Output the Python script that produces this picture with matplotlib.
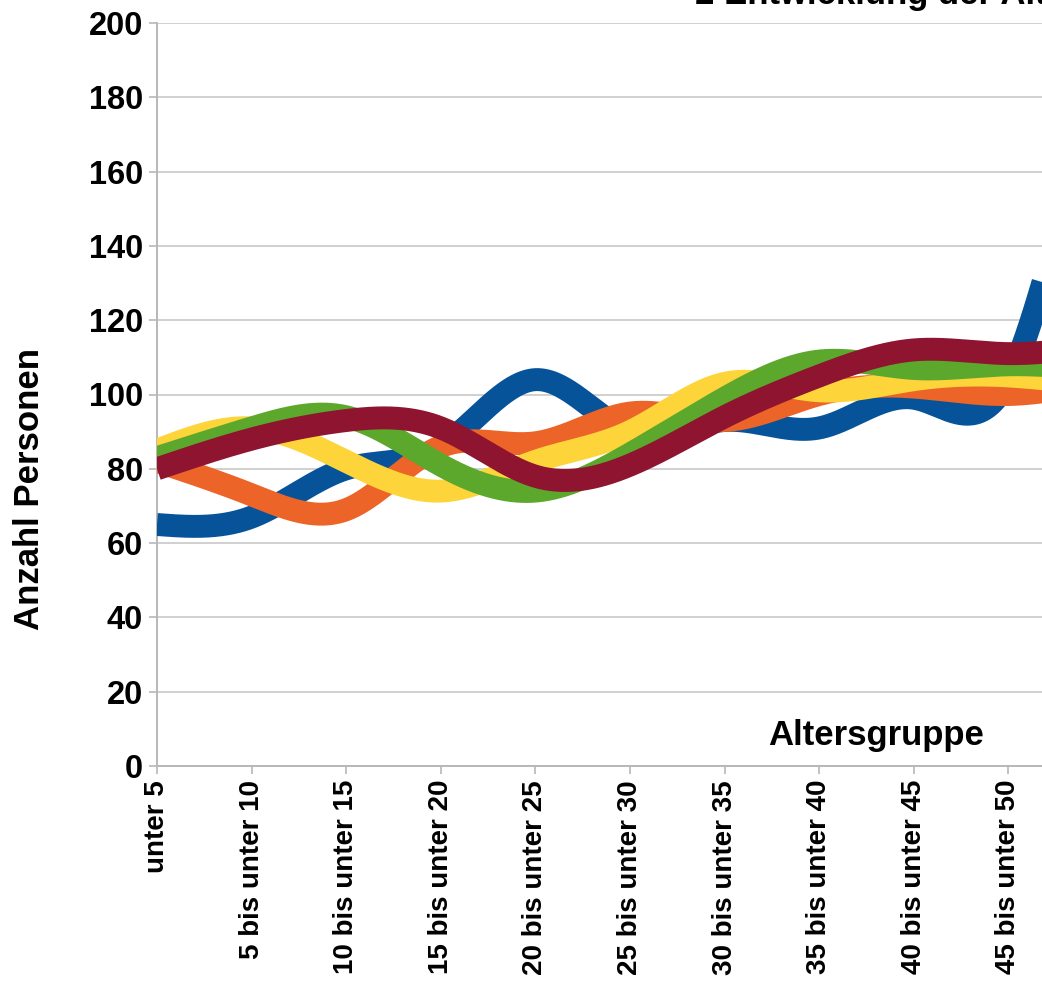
import numpy as np
import matplotlib
matplotlib.use("Agg")
import matplotlib.pyplot as plt

# Age groups (the axis continues past the right edge of the figure)
altersgruppen = [
    "unter 5", "5 bis unter 10", "10 bis unter 15", "15 bis unter 20",
    "20 bis unter 25", "25 bis unter 30", "30 bis unter 35", "35 bis unter 40",
    "40 bis unter 45", "45 bis unter 50", "50 bis unter 55", "55 bis unter 60",
]

# Number of persons per age group, one list per series
reihe_blau = [65, 67, 80, 86, 104, 90, 93, 91, 99, 104, 180, 175]
reihe_orange = [82, 73, 69, 86, 87, 95, 93, 100, 102, 100, 103, 104]
reihe_gelb = [85, 91, 82, 74, 82, 90, 103, 101, 104, 105, 103, 104]
reihe_gruen = [83, 91, 94, 81, 74, 84, 99, 109, 107, 108, 107, 108]
reihe_rot = [80, 88, 93, 91, 78, 81, 94, 105, 112, 111, 113, 114]

farben = ["#07539a", "#ec6428", "#fdd53a", "#5ca82c", "#8e1430"]
reihen = [reihe_blau, reihe_orange, reihe_gelb, reihe_gruen, reihe_rot]

y_ticks = list(range(0, 201, 20))


def natural_spline(x, y, xs):
    """Natural cubic spline through (x, y), evaluated at xs."""
    x = np.asarray(x, float)
    y = np.asarray(y, float)
    n = len(x)
    h = np.diff(x)
    A = np.zeros((n, n))
    b = np.zeros(n)
    A[0, 0] = A[-1, -1] = 1.0
    for i in range(1, n - 1):
        A[i, i - 1] = h[i - 1]
        A[i, i] = 2 * (h[i - 1] + h[i])
        A[i, i + 1] = h[i]
        b[i] = 6 * ((y[i + 1] - y[i]) / h[i] - (y[i] - y[i - 1]) / h[i - 1])
    M = np.linalg.solve(A, b)
    idx = np.clip(np.searchsorted(x, xs) - 1, 0, n - 2)
    x0, x1 = x[idx], x[idx + 1]
    hh = x1 - x0
    t0 = x1 - xs
    t1 = xs - x0
    return (M[idx] * t0 ** 3 / (6 * hh) + M[idx + 1] * t1 ** 3 / (6 * hh)
            + (y[idx] / hh - M[idx] * hh / 6) * t0
            + (y[idx + 1] / hh - M[idx + 1] * hh / 6) * t1)


plt.rcParams["font.family"] = ["Liberation Sans", "DejaVu Sans"]
plt.rcParams["font.weight"] = "bold"

W, H = 1042, 985
fig = plt.figure(figsize=(W / 100, H / 100), dpi=100)

step_px = 94.6
left_px, bottom_px, top_px = 157, 766, 23
n = len(altersgruppen)
ax = fig.add_axes([left_px / W, (H - bottom_px) / H,
                   (n - 1) * step_px / W, (bottom_px - top_px) / H])

xpos = np.arange(n)
xs = np.linspace(0, n - 1, 3000)
for werte, farbe in zip(reihen, farben):
    ax.plot(xs, natural_spline(xpos, werte, xs), color=farbe, lw=16.5,
            solid_capstyle="butt", solid_joinstyle="round", zorder=3)

ax.set_xlim(0, n - 1)
ax.set_ylim(0, 200)
ax.set_yticks(y_ticks)
ax.set_xticks(xpos)
ax.set_xticklabels(altersgruppen, rotation=90, fontsize=20, fontweight="bold",
                   va="top", ha="center")
ax.set_yticklabels([str(v) for v in y_ticks], fontsize=23.5, fontweight="bold")
ax.tick_params(axis="x", length=6, width=1.2, color="#b8b8b8", pad=4)
ax.tick_params(axis="y", length=6, width=1.2, color="#b8b8b8", pad=4)

ax.grid(axis="y", color="#d0d0d0", lw=1.4, zorder=0)
ax.set_axisbelow(True)
for side in ("top", "right"):
    ax.spines[side].set_visible(False)
for side in ("left", "bottom"):
    ax.spines[side].set_color("#b8b8b8")
    ax.spines[side].set_linewidth(1.4)

fig.text(30 / W, 1 - 489 / H, "Anzahl Personen", rotation=90, fontsize=25,
         fontweight="bold", ha="center", va="center")
fig.text(876 / W, 1 - 745 / H, "Altersgruppe", fontsize=25,
         fontweight="bold", ha="center", va="baseline")
fig.text(695 / W, 1 - 4 / H, "2 Entwicklung der Altersstruktur", fontsize=25,
         fontweight="bold", ha="left", va="baseline")

fig.savefig("out.png", dpi=100)
